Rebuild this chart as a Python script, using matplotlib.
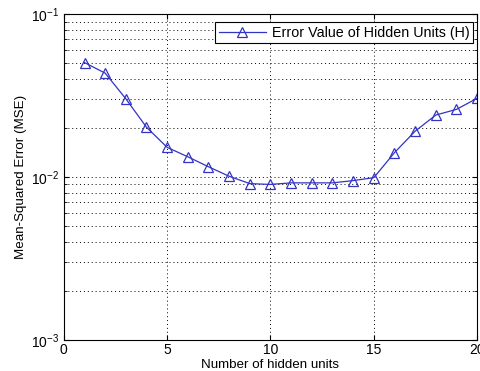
import matplotlib
matplotlib.use('Agg')
import matplotlib.pyplot as plt
from matplotlib.ticker import LogLocator

plt.rcParams['font.family'] = ['Liberation Sans', 'DejaVu Sans']

hidden_units = list(range(1, 21))
mse = [0.0504, 0.0434, 0.0302, 0.0202, 0.0152, 0.0133, 0.01155, 0.0101, 0.0091, 0.0090,
       0.0092, 0.0092, 0.0092, 0.0095, 0.0099, 0.0141, 0.0191, 0.0240, 0.0260, 0.0304]

fig = plt.figure(figsize=(4.8, 3.71), dpi=100)
ax = fig.add_axes([0.133, 0.084, 0.861, 0.878])

ax.semilogy(hidden_units, mse, color='#3333c4', lw=0.9, marker='^', markersize=7,
            markerfacecolor='none', markeredgecolor='#3333c4', markeredgewidth=0.9,
            label='Error Value of Hidden Units (H)')

ax.set_xlim(0, 20)
ax.set_ylim(1e-3, 1e-1)
ax.set_xticks([0, 5, 10, 15, 20])
ax.yaxis.set_major_locator(LogLocator(base=10, numticks=5))
ax.yaxis.set_minor_locator(LogLocator(base=10, subs=range(2, 10), numticks=20))
ax.grid(True, which='major', axis='both', color='black', linestyle=(0, (1, 3)), lw=0.7)
ax.grid(True, which='minor', axis='y', color='black', linestyle=(0, (1, 3)), lw=0.7)
ax.tick_params(which='both', direction='in', top=True, right=True, labelsize=10)
ax.tick_params(axis='x', pad=2)
ax.tick_params(which='minor', labelleft=False)
for s in ax.spines.values():
    s.set_linewidth(0.8)

ax.set_xlabel('Number of hidden units', fontsize=9.6, labelpad=1.5)
ax.set_ylabel('Mean-Squared Error (MSE)', fontsize=9.6, labelpad=3)

leg = ax.legend(loc='upper right', bbox_to_anchor=(0.99, 0.975), fontsize=10.3,
                fancybox=False, framealpha=1, edgecolor='black', borderaxespad=0,
                handlelength=3.3, borderpad=0.25, handletextpad=0.4)
leg.get_frame().set_linewidth(0.8)

fig.savefig('out.png', dpi=100)
